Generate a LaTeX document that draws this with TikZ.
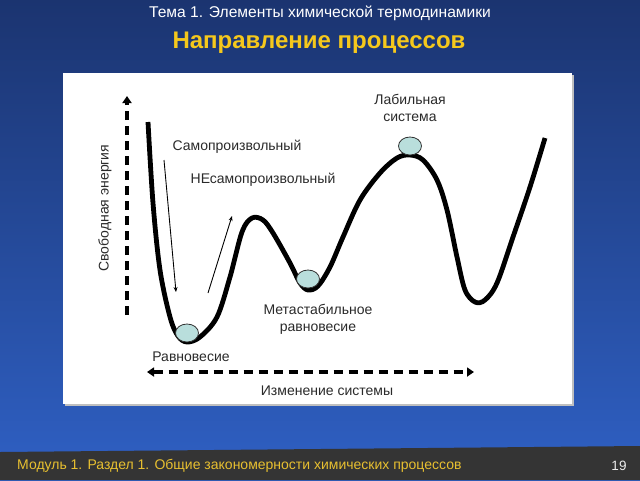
\documentclass[tikz,border=0pt]{standalone}
\usepackage{fontspec}
\setmainfont{Liberation Sans}
\usetikzlibrary{arrows.meta}
\definecolor{bgtop}{HTML}{1B3470}
\definecolor{bgbot}{HTML}{2F60C4}
\definecolor{footgray}{HTML}{343434}
\definecolor{titleyel}{HTML}{F5C81C}
\definecolor{footyel}{HTML}{E8C030}
\definecolor{ballcol}{HTML}{B9DEDC}
\definecolor{txtgray}{HTML}{2A2A2A}
\tikzset{
  lbl/.style={font=\fontsize{14}{16}\selectfont, text=txtgray, inner sep=0pt, align=center},
  curve/.style={line width=4.8pt, black, line join=round},
  ball/.style={draw=black!80, line width=0.8pt, fill=ballcol},
  dasharrow/.style={line width=4pt, dash pattern=on 9pt off 6pt, -{Triangle[length=7pt,width=9pt]}},
  thinarrow/.style={line width=0.9pt, -{Stealth[length=5pt,width=4pt]}}
}
\begin{document}
\begin{tikzpicture}[x=1pt,y=-1pt]
\useasboundingbox (0,0) rectangle (640,480);
\shade[top color=bgtop, bottom color=bgbot] (0,0) rectangle (640,480);
\fill[footgray] (0,452) -- (640,446) -- (640,480) -- (0,480) -- cycle;
% panel
\fill[black!25] (65,75) rectangle (574,406);
\fill[white] (63,73) rectangle (572,404);
% header
\node[font=\fontsize{15.6}{18}\selectfont, text=white, inner sep=0pt] (theme) at (320,13) {Тема 1. Элементы химической термодинамики};
\node[font=\fontsize{24}{28}\selectfont\bfseries, text=titleyel, inner sep=0pt] (title) at (319,43) {Направление процессов};
% footer
\node[font=\fontsize{14}{16}\selectfont, text=footyel, inner sep=0pt, anchor=west] (foot) at (17,466) {Модуль 1. Раздел 1. Общие закономерности химических процессов};
\node[font=\fontsize{13.5}{15}\selectfont, text=white!85!gray, inner sep=0pt] (page) at (619,466) {19};
% axes
\coordinate (ybot) at (127,315);
\coordinate (ytop) at (127,96);
\draw[dasharrow] (ybot) -- (ytop);
\coordinate (xl) at (147,372);
\coordinate (xr) at (474,372);
\draw[dasharrow, {Triangle[length=7pt,width=9pt]}-{Triangle[length=7pt,width=9pt]}] (xl) -- (xr);
% curve
\draw[curve] plot[smooth, tension=0.55] coordinates {
(148,122) (153,203) (160,270) (170,317) (178,336) (187,342) (200,337) (217,317)
(230,277) (242,232) (252,218) (263,220) (273,233) (290,263) (300,283) (308,290)
(318,286) (330,267) (343,237) (360,200) (380,173) (397,158) (410,155) (423,160)
(437,180) (447,210) (457,257) (465,290) (475,302) (485,300) (497,283) (513,237)
(530,187) (545,138)};
% balls
\draw[ball] (187,333) ellipse [x radius=11.5pt, y radius=9pt];
\draw[ball] (308,279) ellipse [x radius=11.5pt, y radius=9pt];
\draw[ball] (410,146) ellipse [x radius=11.5pt, y radius=9pt];
% thin arrows
\coordinate (d1) at (164,160);
\coordinate (d2) at (176,292);
\draw[thinarrow] (d1) -- (d2);
\coordinate (u1) at (208,293);
\coordinate (u2) at (232,216);
\draw[thinarrow] (u1) -- (u2);
% labels
\node[lbl, rotate=90] (energy) at (105,208) {Свободная энергия};
\node[lbl] (spont) at (237,147) {Самопроизвольный};
\node[lbl] (nonspont) at (263,180) {НЕсамопроизвольный};
\node[lbl, font=\fontsize{14}{17}\selectfont] (labile) at (410,108) {Лабильная\\система};
\node[lbl, font=\fontsize{14}{17}\selectfont] (meta) at (318,319) {Метастабильное\\равновесие};
\node[lbl] (equil) at (191,357) {Равновесие};
\node[lbl] (change) at (327,391) {Изменение системы};
\end{tikzpicture}
\end{document}
